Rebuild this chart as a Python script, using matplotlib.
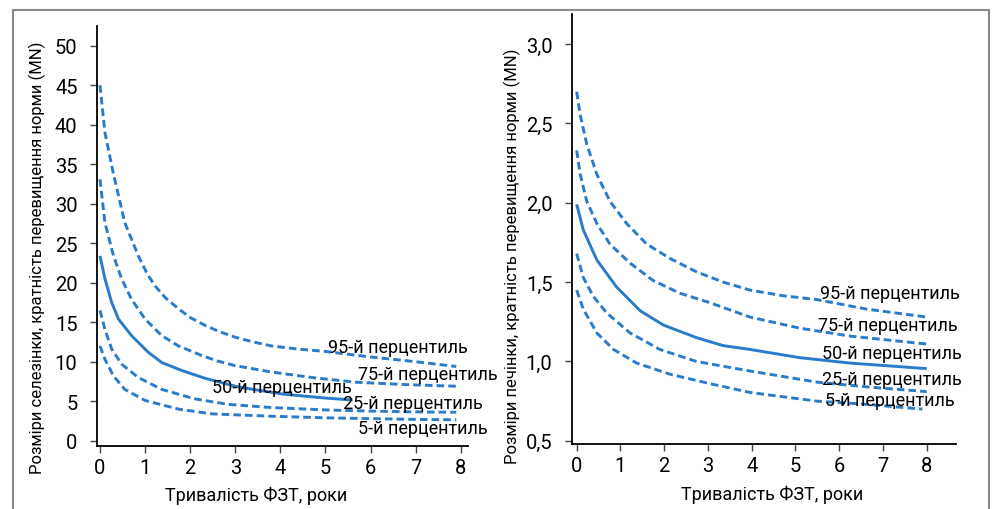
import numpy as np, matplotlib
matplotlib.use("Agg")
import matplotlib.pyplot as plt
from matplotlib.lines import Line2D

plt.rcParams['font.family'] = ['Roboto', 'DejaVu Sans']

BLUE = "#2a7bc9"

# --- spleen (left) ---
sp95_x = [0, 0.11, 0.29, 0.55, 0.85, 1.05, 1.22, 1.45, 1.74, 2.0, 2.33, 2.65, 3.0, 3.4, 3.8, 4.4, 5.0, 6.0, 7.0, 7.9]
sp95_y = [45, 39, 34, 27.6, 23.4, 21.1, 19.6, 18.1, 16.7, 15.6, 14.6, 13.8, 13.1, 12.5, 12.0, 11.6, 11.3, 10.6, 10.0, 9.4]
sp75_x = [0, 0.11, 0.30, 0.48, 0.70, 1.0, 1.37, 1.74, 2.25, 2.6, 3.0, 3.8, 4.7, 5.69, 6.8, 7.9]
sp75_y = [33.1, 27.6, 23.4, 20.5, 17.9, 15.4, 13.3, 12.0, 10.8, 10.1, 9.5, 8.7, 8.0, 7.4, 7.1, 6.9]
sp50_x = [0, 0.11, 0.26, 0.41, 0.70, 1.07, 1.37, 1.81, 2.33, 3.07, 4.06, 5.0, 5.6]
sp50_y = [23.4, 20.5, 17.5, 15.4, 13.3, 11.2, 9.9, 8.9, 7.9, 6.8, 5.9, 5.4, 5.15]
sp25_x = [0, 0.11, 0.26, 0.48, 0.85, 1.37, 2.1, 2.85, 3.8, 5.0, 6.0, 7.0, 7.9]
sp25_y = [16.5, 14.1, 11.6, 9.7, 8.0, 6.5, 5.3, 4.6, 4.2, 3.9, 3.75, 3.65, 3.6]
sp5_x = [0, 0.11, 0.30, 0.55, 1.0, 1.74, 2.48, 3.8, 5.0, 6.0, 7.0, 7.9]
sp5_y = [12.0, 10.3, 8.2, 6.5, 5.1, 4.0, 3.4, 3.1, 2.9, 2.8, 2.7, 2.65]

# --- liver (right) ---
lv95_x = [0, 0.08, 0.23, 0.46, 0.76, 1.14, 1.6, 2.13, 2.74, 3.35, 3.96, 4.7, 5.49, 6.63, 8.0]
lv95_y = [2.70, 2.555, 2.37, 2.18, 2.01, 1.87, 1.74, 1.65, 1.565, 1.50, 1.45, 1.415, 1.39, 1.33, 1.28]
lv75_x = [0, 0.08, 0.23, 0.46, 0.76, 1.22, 1.75, 2.36, 3.05, 3.96, 5.1, 6.25, 8.0]
lv75_y = [2.33, 2.18, 2.01, 1.87, 1.74, 1.62, 1.51, 1.43, 1.37, 1.28, 1.21, 1.16, 1.11]
lv50_x = [0, 0.15, 0.46, 0.91, 1.45, 1.98, 2.74, 3.35, 3.96, 5.1, 6.25, 8.0]
lv50_y = [1.99, 1.83, 1.64, 1.47, 1.32, 1.23, 1.15, 1.10, 1.076, 1.024, 0.99, 0.955]
lv25_x = [0, 0.15, 0.38, 0.69, 1.22, 1.9, 2.74, 3.96, 5.49, 6.63, 8.0]
lv25_y = [1.68, 1.53, 1.41, 1.305, 1.18, 1.076, 1.0, 0.94, 0.87, 0.84, 0.81]
lv5_x = [0, 0.15, 0.46, 0.84, 1.37, 2.13, 3.05, 3.96, 5.49, 6.63, 7.9]
lv5_y = [1.45, 1.33, 1.18, 1.076, 0.99, 0.92, 0.86, 0.805, 0.75, 0.73, 0.70]

labels = ["95-й перцентиль", "75-й перцентиль", "50-й перцентиль", "25-й перцентиль", "5-й перцентиль"]
sp_lab_x = [5.06, 5.72, 2.48, 5.39, 5.72]
sp_lab_y = [11.9, 8.4, 6.8, 4.8, 1.6]
lv_lab_x = [5.56, 5.51, 5.6, 5.6, 5.67]
lv_lab_y = [1.43, 1.228, 1.053, 0.889, 0.76]

x_ticks = list(range(0, 9))
sp_yticks = list(range(0, 55, 5))
lv_yticks = [0.5, 1.0, 1.5, 2.0, 2.5, 3.0]

fig = plt.figure(figsize=(9.99, 5.10), dpi=100)
ax1 = fig.add_axes([97/999, 1-446.7/510, 371/999, 419.7/510])
ax2 = fig.add_axes([572/999, 1-445/510, 384/999, 430/510])

DASH = (0, (2.6, 1.4))

def draw(ax, series, lab_x, lab_y):
    for i, (xs, ys) in enumerate(series):
        ls = "-" if i == 2 else DASH
        ax.plot(xs, ys, color=BLUE, lw=2.1, linestyle=ls, solid_capstyle="butt", dash_capstyle="butt")
    for t, lx, ly in zip(labels, lab_x, lab_y):
        ax.text(lx, ly, t, ha="left", va="center", fontsize=13, color="black")
    for s in ["top", "right"]:
        ax.spines[s].set_visible(False)
    for s in ["left", "bottom"]:
        ax.spines[s].set_linewidth(1.3)
    ax.tick_params(direction="out", length=5, width=1, color="#444444", labelsize=14.5)
    ax.tick_params(axis="y", pad=9)
    ax.tick_params(axis="x", pad=4)
    ax.set_xticks(x_ticks)

draw(ax1, [(sp95_x, sp95_y), (sp75_x, sp75_y), (sp50_x, sp50_y), (sp25_x, sp25_y), (sp5_x, sp5_y)], sp_lab_x, sp_lab_y)
ax1.set_xlim(-0.066, 8.16); ax1.set_ylim(-0.63, 52.5)
ax1.set_yticks(sp_yticks)
ax1.set_xlabel("Тривалість ФЗТ, роки", fontsize=13)
ax1.set_ylabel("Розміри селезінки, кратність перевищення норми (MN)", fontsize=12)
ax1.xaxis.set_label_coords(0.43, -40/419.7)
ax1.yaxis.set_label_coords(-51/371, (446.7-258)/419.7)

draw(ax2, [(lv95_x, lv95_y), (lv75_x, lv75_y), (lv50_x, lv50_y), (lv25_x, lv25_y), (lv5_x, lv5_y)], lv_lab_x, lv_lab_y)
ax2.set_xlim(-0.107, 8.67); ax2.set_ylim(0.48, 3.19)
ax2.set_yticks(lv_yticks)
ax2.set_yticklabels([f"{v:.1f}".replace(".", ",") for v in lv_yticks])
ax2.set_xlabel("Тривалість ФЗТ, роки", fontsize=13)
ax2.set_ylabel("Розміри печінки, кратність перевищення норми (MN)", fontsize=12)
ax2.xaxis.set_label_coords(0.52, -41/430)
ax2.yaxis.set_label_coords(-51/384, (445-256)/430)

# outer frame
fc = "#8a8a8a"
fig.add_artist(Line2D([13/999, 13/999], [0, 1-11/510], color=fc, lw=1.5))
fig.add_artist(Line2D([13/999, 989/999], [1-11/510, 1-11/510], color=fc, lw=1.5))
fig.add_artist(Line2D([989/999, 989/999], [1-11/510, 0], color=fc, lw=1.5))

fig.savefig("out.png", dpi=100)
